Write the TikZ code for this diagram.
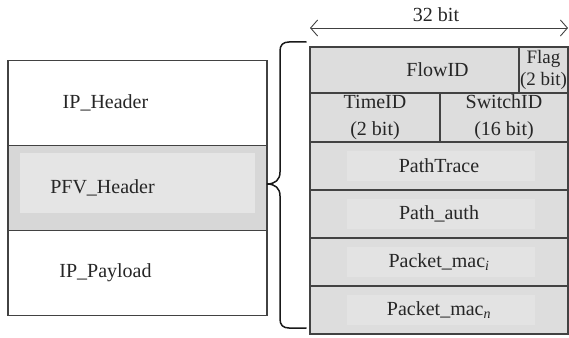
\documentclass[tikz,border=0pt]{standalone}
\usepackage{fontspec}
\setmainfont{Liberation Serif}
\usetikzlibrary{arrows.meta}

\definecolor{cellfill}{HTML}{DDDDDD}
\definecolor{cellglow}{HTML}{E3E3E3}
\definecolor{pfvfill}{HTML}{D7D7D7}
\definecolor{pfvglow}{HTML}{E5E5E5}
\definecolor{cellline}{HTML}{424242}

\begin{document}
\begin{tikzpicture}[
    x=1pt, y=-1pt,
    every node/.style={font=\fontsize{20}{27}\selectfont, text=black!85},
    ipbox/.style={
        rectangle,
        draw=cellline,
        line width=1.2pt,
        minimum width=259pt,
        minimum height=85pt,
        inner sep=0pt
    },
    cell/.style={
        rectangle,
        draw=cellline,
        fill=cellfill,
        line width=1.5pt,
        minimum height=48pt,
        align=center,
        inner sep=0pt
    },
    glow/.style n args={5}{
        path picture={\fill[#5]
            ([shift={(#1,-#2)}]path picture bounding box.north west) rectangle
            ([shift={(-#3,#4)}]path picture bounding box.south east);}
    },
    bitarrow/.style={
        {Straight Barb[length=7pt,width=16pt]}-{Straight Barb[length=7pt,width=16pt]},
        line width=0.9pt,
        black!75
    },
    brace/.style={line width=1.5pt, black!90, line cap=round}
]
\useasboundingbox (0,0) rectangle (569,337);

% Pacchetto IP
\node[ipbox] (iphdr) at (137.5,103) {};
\node[ipbox, fill=pfvfill, glow={12pt}{7pt}{12pt}{18pt}{pfvglow}] (pfvhdr) at (137.5,188) {};
\node[ipbox] (ippay) at (137.5,273) {};
\node (iphdrtxt) at ([xshift=-32pt]iphdr.center) {IP\_Header};
\node (pfvtxt) at ([xshift=-35pt]pfvhdr.center) {PFV\_Header};
\node (ippaytxt) at ([xshift=-32pt]ippay.center) {IP\_Payload};

% Intestazione PFV (32 bit)
\node[cell, minimum width=209pt, minimum height=46pt,
      label={[xshift=23pt]center:FlowID}] (flowid) at (414.5,70) {};
\node[cell, minimum width=49pt, minimum height=46pt,
      font=\fontsize{19}{22}\selectfont] (flag) at (543.5,70) {Flag\\(2 bit)};
\node[cell, minimum width=130pt, minimum height=49pt] (timeid) at (375,117.5) {TimeID\\(2 bit)};
\node[cell, minimum width=128pt, minimum height=49pt] (switchid) at (504,117.5) {SwitchID\\(16 bit)};
\node[cell, minimum width=258pt, glow={37pt}{9pt}{33pt}{9pt}{cellglow}] (pathtrace) at (439,166) {PathTrace};
\node[cell, minimum width=258pt, glow={37pt}{9pt}{33pt}{9pt}{cellglow}] (pathauth) at (439,214) {Path\_auth};
\node[cell, minimum width=258pt, glow={37pt}{9pt}{33pt}{9pt}{cellglow}] (macone) at (439,262) {Packet\_mac\textsubscript{\textit{i}}};
\node[cell, minimum width=258pt, glow={37pt}{9pt}{33pt}{9pt}{cellglow}] (maclast) at (439,310) {Packet\_mac\textsubscript{\textit{n}}};

% Larghezza
\coordinate (bitl) at (310,28);
\coordinate (bitr) at (568,28);
\node (bitlbl) at (436,15) {32 bit};
\draw[bitarrow] (bitl) -- (bitr);

% Parentesi graffa
\coordinate (bracetop) at (306,42);
\coordinate (bracetip) at (267,184);
\coordinate (bracebot) at (306,328);
\draw[brace] (bracetop) -- (289,42) .. controls (283,42) and (280,45) .. (280,51)
    -- (280,172) .. controls (280,180) and (275,184) .. (bracetip)
    .. controls (275,184) and (280,188) .. (280,196)
    -- (280,319) .. controls (280,325) and (283,328) .. (289,328) -- (bracebot);

\end{tikzpicture}
\end{document}
